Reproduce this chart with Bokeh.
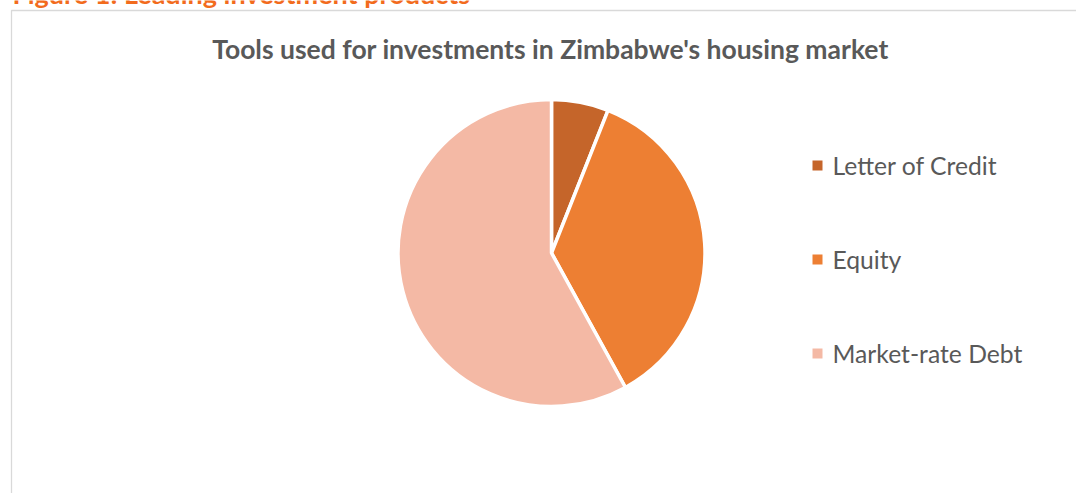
from math import pi
import numpy as np
from bokeh.plotting import figure
from bokeh.models import Range1d, ColumnDataSource
from bokeh.core.properties import value
from bokeh.embed import file_html
from bokeh.resources import INLINE

# ---- data ----
categories = ["Letter of Credit", "Equity", "Market-rate Debt"]
shares = [6, 36, 58]
colors = ["#C5652A", "#ED7F33", "#F4B9A5"]
chart_title = "Tools used for investments in Zimbabwe's housing market"
figure_caption = "Figure 1: Leading investment products"

W, H = 1076, 493
FONT = "Lato"

p = figure(width=W, height=H, output_backend="svg", toolbar_location=None,
           x_range=Range1d(0, W), y_range=Range1d(0, H), min_border=0)
p.axis.visible = False
p.grid.visible = False
p.outline_line_color = None
p.background_fill_color = "white"
p.border_fill_color = "white"

def Y(y):
    return H - y

# chart border (extends past right and bottom edges)
p.quad(left=11, right=W + 20, top=Y(10), bottom=Y(H + 20),
       fill_color=None, line_color="#D9D9D9", line_width=1.3)

# cut-off caption at the very top
p.text(x=[12], y=[Y(-7)], text=[figure_caption], text_font=value(FONT),
       text_font_style="bold", text_font_size="27px", text_color="#F26B1D",
       text_baseline="middle", text_align="left")

# title
p.text(x=[550], y=[Y(48)], text=[chart_title], text_font=value(FONT),
       text_font_style="bold", text_font_size="26.5px", text_color="#595959",
       text_baseline="middle", text_align="center")

# pie
vals = np.array(shares, dtype=float)
frac = vals / vals.sum()
cum = np.concatenate([[0], np.cumsum(frac)])
start = pi / 2 - cum[:-1] * 2 * pi
end = pi / 2 - cum[1:] * 2 * pi
src = ColumnDataSource(dict(start=start, end=end, color=colors, cat=categories))
p.wedge(x=551, y=Y(252.5), radius=153.5, start_angle="start", end_angle="end",
        direction="clock", fill_color="color", line_color="white", line_width=3.5,
        source=src)

# legend
rows_y = [Y(165 + i * 94) for i in range(len(categories))]
p.scatter(x=[817] * len(categories), y=rows_y, marker="square", size=10,
          fill_color=colors, line_color=None)
p.text(x=[832] * len(categories), y=rows_y, text=categories, text_font=value(FONT),
       text_font_size="24.7px", text_color="#595959", text_baseline="middle",
       text_align="left")

open("out.html", "w").write(file_html(p, INLINE))
